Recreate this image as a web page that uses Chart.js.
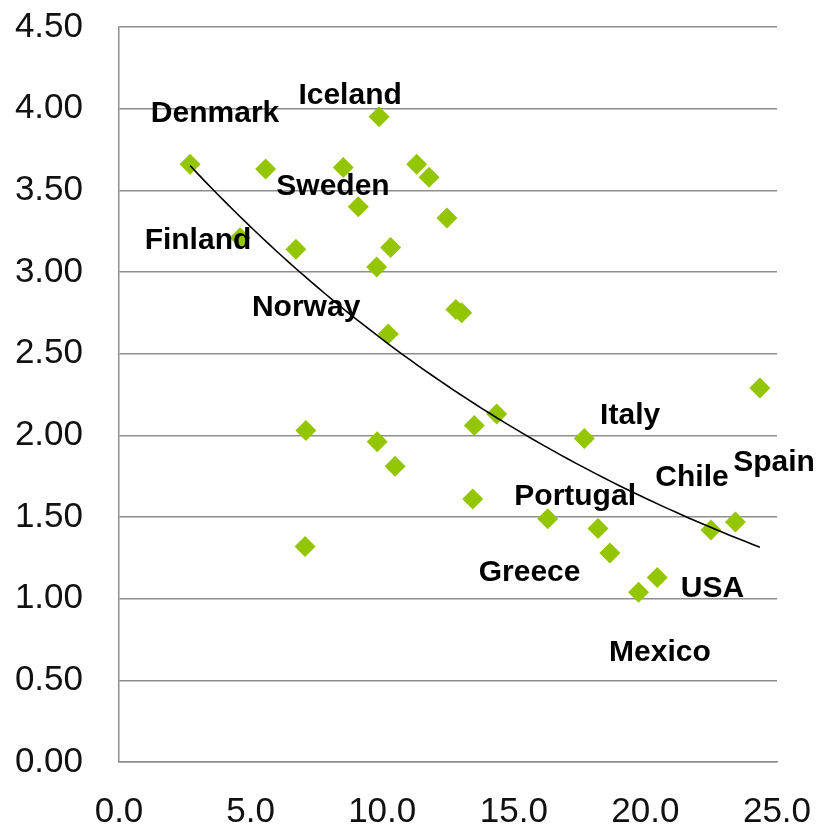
<!DOCTYPE html>
<html>
<head>
<meta charset="utf-8">
<script src="https://cdn.jsdelivr.net/npm/chart.js@4.4.1/dist/chart.umd.min.js"></script>
<style>
  body { margin: 0; background: #fff; }
  canvas { display: block; }
</style>
</head>
<body>
<canvas id="scatterChart" width="819" height="829"></canvas>
<script>
// point values
const xValues = [2.70, 5.57, 4.60, 6.72, 8.52, 9.09, 9.88, 10.32, 9.79, 10.23,
                 11.31, 11.78, 12.46, 12.80, 13.02, 24.35, 7.10, 9.81, 10.49, 7.07,
                 13.50, 14.35, 17.68, 13.44, 16.29, 18.20, 18.65, 20.45, 19.74, 22.49, 23.42];
const yValues = [3.66, 3.63, 3.21, 3.14, 3.64, 3.40, 3.95, 3.15, 3.03, 2.62,
                 3.66, 3.58, 3.33, 2.77, 2.75, 2.29, 2.03, 1.96, 1.81, 1.32,
                 2.06, 2.13, 1.98, 1.61, 1.49, 1.43, 1.28, 1.13, 1.04, 1.42, 1.47];

const xTicks = [0, 5, 10, 15, 20, 25];
const yTicks = [0, 0.5, 1, 1.5, 2, 2.5, 3, 3.5, 4, 4.5];

const countryNames = ['Denmark', 'Iceland', 'Sweden', 'Finland', 'Norway', 'Italy',
                      'Spain', 'Chile', 'Portugal', 'Greece', 'USA', 'Mexico'];
// where each name is written, in axis units
const namePositions = [[3.65, 3.99], [8.78, 4.10], [8.13, 3.54], [3.00, 3.21],
                       [7.11, 2.80], [19.42, 2.14], [24.89, 1.85], [21.77, 1.76],
                       [17.33, 1.64], [15.60, 1.18], [22.55, 1.08], [20.55, 0.69]];

// exponential trendline (least squares on ln y, like a spreadsheet)
function exponentialTrend(xs, ys) {
    const n = xs.length;
    const ly = ys.map(v => Math.log(v));
    const mx = xs.reduce((s, v) => s + v, 0) / n;
    const my = ly.reduce((s, v) => s + v, 0) / n;
    let sxy = 0, sxx = 0;
    for (let i = 0; i < n; i++) {
        sxy += (xs[i] - mx) * (ly[i] - my);
        sxx += (xs[i] - mx) * (xs[i] - mx);
    }
    const b = sxy / sxx;
    const a = Math.exp(my - b * mx);
    const lo = Math.min(...xs), hi = Math.max(...xs);
    const pts = [];
    for (let i = 0; i <= 80; i++) {
        const x = lo + (hi - lo) * i / 80;
        pts.push({ x: x, y: a * Math.exp(b * x) });
    }
    return pts;
}

const points = xValues.map((x, i) => ({ x: x, y: yValues[i] }));
const trendPoints = exponentialTrend(xValues, yValues);

const gridGray = '#8e8e8e';
const tickFont = { family: '"Liberation Sans", Arial, sans-serif', size: 35 };

const countryLabels = {
    id: 'countryLabels',
    afterDatasetsDraw(chart) {
        const ctx = chart.ctx;
        const xs = chart.scales.x, ys = chart.scales.y;
        ctx.save();
        ctx.font = 'bold 30px "Liberation Sans", Arial, sans-serif';
        ctx.fillStyle = '#000';
        ctx.textAlign = 'center';
        ctx.textBaseline = 'middle';
        countryNames.forEach((name, i) => {
            const [px, py] = namePositions[i];
            // +3: glyphs sit a little above the middle baseline
            ctx.fillText(name, xs.getPixelForValue(px), ys.getPixelForValue(py) + 3);
        });
        ctx.restore();
    }
};

new Chart(document.getElementById('scatterChart'), {
    type: 'scatter',
    data: {
        datasets: [
            {
                label: 'Trend',
                data: trendPoints,
                showLine: true,
                borderColor: '#000',
                borderWidth: 1.6,
                pointRadius: 0,
                fill: false,
                order: 0
            },
            {
                label: 'Countries',
                data: points,
                pointStyle: 'rectRot',
                pointRadius: 10.5,
                pointBackgroundColor: '#93c500',
                pointBorderWidth: 0,
                borderColor: '#93c500',
                order: 1
            }
        ]
    },
    options: {
        responsive: false,
        animation: false,
        layout: { padding: { left: 0, top: 27, right: 42, bottom: 0 } },
        plugins: {
            legend: { display: false },
            tooltip: { enabled: false }
        },
        scales: {
            x: {
                type: 'linear',
                min: 0,
                max: 25,
                afterBuildTicks: scale => { scale.ticks = xTicks.map(v => ({ value: v })); },
                afterFit: scale => {
                    scale.height = 67;
                    scale.paddingLeft = 0;
                    scale.paddingRight = 0;
                },
                grid: { display: false },
                border: { display: true, color: gridGray, width: 1.5 },
                ticks: {
                    padding: 21,
                    color: '#111',
                    font: tickFont,
                    maxRotation: 0,
                    callback: v => Number(v).toFixed(1)
                }
            },
            y: {
                min: 0,
                max: 4.5,
                afterBuildTicks: scale => { scale.ticks = yTicks.map(v => ({ value: v })); },
                afterFit: scale => {
                    scale.width = 119;
                    scale.paddingTop = 0;
                    scale.paddingBottom = 0;
                },
                grid: { color: gridGray, lineWidth: 1.5, drawTicks: false },
                border: { display: true, color: gridGray, width: 1.5 },
                ticks: {
                    padding: 36,
                    color: '#111',
                    font: tickFont,
                    callback: v => Number(v).toFixed(2)
                }
            }
        }
    },
    plugins: [countryLabels]
});
</script>
</body>
</html>
